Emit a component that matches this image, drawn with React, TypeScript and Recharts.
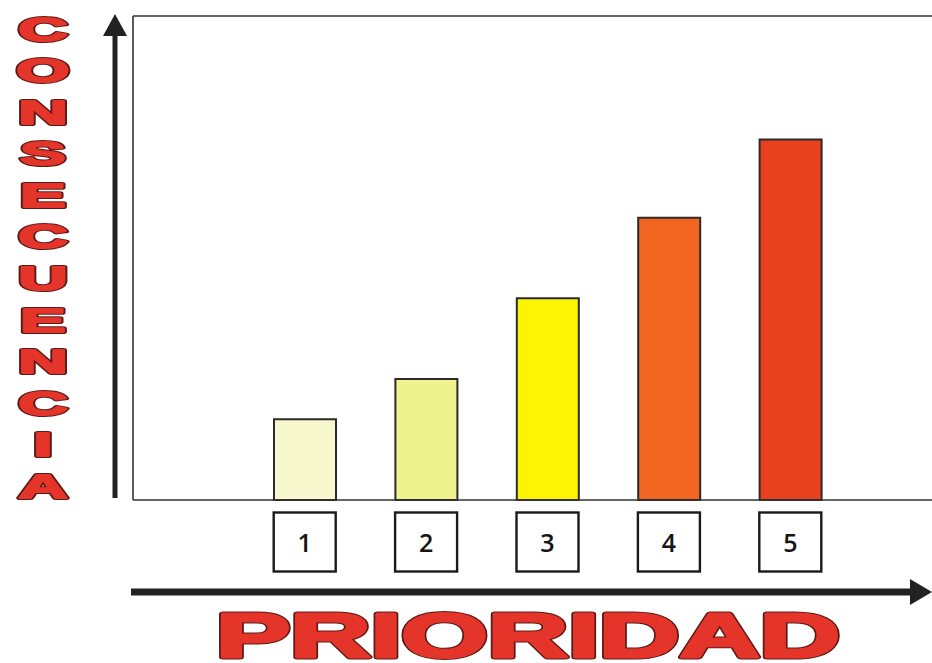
import React from 'react';
import { BarChart, Bar, XAxis, YAxis, Cell, ReferenceLine } from 'recharts';

// ---- data ----
const categories = ['1', '2', '3', '4', '5'];
const consecuencia = [1, 1.5, 2.5, 3.5, 4.47];
const yAxisTitle = 'CONSECUENCIA';
const xAxisTitle = 'PRIORIDAD';
const yDomain = [0, 6];

// ---- styles ----
const BAR_COLORS = ['#F8F8CE', '#EEF38E', '#FBF403', '#F26521', '#E8411F'];
const TEXT_RED = '#E5352B';
const OUTLINE = '#5E1A16';
const INK = '#222222';
const FONT = "'Liberation Sans', Arial, sans-serif";

const data = categories.map((c, i) => ({ cat: c, value: consecuencia[i] }));

function BoxTick(props: any) {
  const { x, y, payload } = props;
  return (
    <g>
      <rect x={x - 31} y={y + 12.5} width={62} height={59} fill="#fff" stroke="#1a1a1a" strokeWidth={2.4} />
      <text
        x={x}
        y={y + 52}
        textAnchor="middle"
        fontFamily="'Open Sans', sans-serif"
        fontWeight={600}
        fontSize={25}
        fill="#151515"
      >
        {payload.value}
      </text>
    </g>
  );
}

function HeavyText(props: any) {
  const { children, outline = 4.5, fillStroke = 2.4, ...rest } = props;
  return (
    <g>
      <text {...rest} fill={OUTLINE} stroke={OUTLINE} strokeWidth={outline} strokeLinejoin="round">
        {children}
      </text>
      <text {...rest} fill={TEXT_RED} stroke={TEXT_RED} strokeWidth={fillStroke} strokeLinejoin="round">
        {children}
      </text>
    </g>
  );
}

function YTitle() {
  const letters = yAxisTitle.split('');
  const first = 28.5;
  const last = 486;
  const step = (last - first) / (letters.length - 1);
  return (
    <g>
      <rect x={112.5} y={30} width={5} height={468} fill={INK} />
      <polygon points="115,14 103,36 127,36" fill={INK} />
      {letters.map((ch, i) => {
        const cy = first + i * step;
        return (
          <HeavyText
            key={i}
            transform={`translate(43, ${cy + 12}) scale(2.0, 1)`}
            x={0}
            y={0}
            textAnchor="middle"
            fontFamily={FONT}
            fontWeight="bold"
            fontSize={34}
            outline={4}
            fillStroke={2}
          >
            {ch}
          </HeavyText>
        );
      })}
    </g>
  );
}

function XTitle() {
  return (
    <g>
      <rect x={131} y={588.5} width={785} height={7} fill={INK} />
      <polygon points="932,592 910,579 910,605" fill={INK} />
      <HeavyText
        x={216}
        y={657}
        textLength={624}
        lengthAdjust="spacingAndGlyphs"
        fontFamily={FONT}
        fontWeight="bold"
        fontSize={63}
        outline={5}
        fillStroke={3}
      >
        {xAxisTitle}
      </HeavyText>
    </g>
  );
}

export default function App() {
  return (
    <div
      style={{
        position: 'absolute',
        left: 0,
        top: 0,
        width: 932,
        height: 663,
        overflow: 'hidden',
        background: '#fff',
      }}
    >
      <BarChart width={932} height={663} data={data} margin={{ top: 16, right: 0, bottom: 0, left: 0 }}>
        <XAxis
          dataKey="cat"
          height={163}
          padding={{ left: 111, right: 81 }}
          axisLine={{ stroke: '#333', strokeWidth: 1.6 }}
          tickLine={false}
          tickSize={0}
          tickMargin={0}
          interval={0}
          tick={<BoxTick />}
          label={<XTitle />}
        />
        <YAxis
          type="number"
          domain={yDomain}
          width={133}
          axisLine={{ stroke: '#333', strokeWidth: 1.6 }}
          tick={false}
          tickLine={false}
          label={<YTitle />}
        />
        <ReferenceLine y={yDomain[1]} stroke="#333" strokeWidth={1.6} />
        <Bar dataKey="value" barSize={62} stroke="#2b2b2b" strokeWidth={2} isAnimationActive={false}>
          {data.map((d, i) => (
            <Cell key={d.cat} fill={BAR_COLORS[i]} />
          ))}
        </Bar>
      </BarChart>
    </div>
  );
}
